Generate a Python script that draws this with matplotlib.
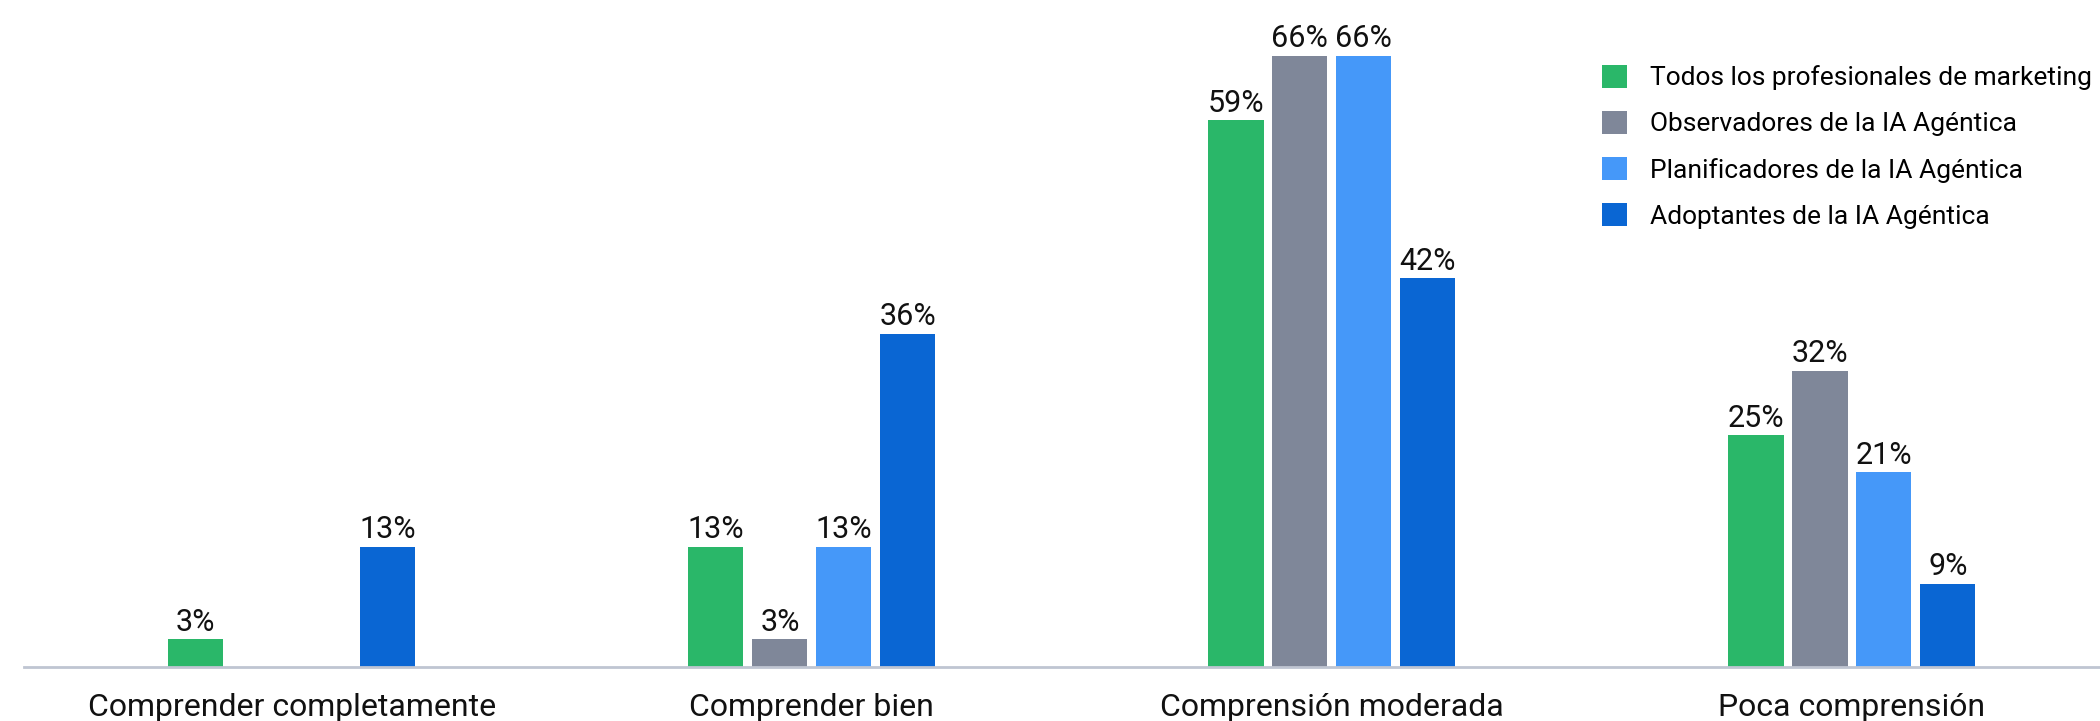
import numpy as np
import matplotlib.pyplot as plt

categories = ["Comprender completamente", "Comprender bien", "Comprensión moderada", "Poca comprensión"]
series_names = [
    "Todos los profesionales de marketing",
    "Observadores de la IA Agéntica",
    "Planificadores de la IA Agéntica",
    "Adoptantes de la IA Agéntica",
]
todos = [3, 13, 59, 25]
observadores = [np.nan, 3, 66, 32]
planificadores = [np.nan, 13, 66, 21]
adoptantes = [13, 36, 42, 9]

colors = ["#2AB769", "#7F8799", "#4598F9", "#0A66D3"]

plt.rcParams['font.family'] = ['Roboto', 'DejaVu Sans']

fig = plt.figure(figsize=(21, 7.21), dpi=100)
ax = fig.add_axes([24 / 2100, 54 / 721, 1 - 24 / 2100, 667 / 721])

x = np.arange(len(categories))
slot = 0.123
width = 0.106
all_series = [todos, observadores, planificadores, adoptantes]

for i, (vals, name, c) in enumerate(zip(all_series, series_names, colors)):
    pos = x + (i - 1.5) * slot
    bars = ax.bar(pos, vals, width=width, color=c, label=name, edgecolor="none")
    for xp, v in zip(pos, vals):
        if np.isnan(v):
            continue
        ax.annotate(f"{v:.0f}%", (xp, v), xytext=(0, 6), textcoords="offset points",
                    ha="center", va="baseline", fontsize=22, color="#111111")

ax.set_xlim(-0.515, 3.477)
ax.set_ylim(0, 72)
ax.set_xticks(x)
ax.set_xticklabels(categories, fontsize=23, color="#111111")
ax.tick_params(axis="x", length=0, pad=19)
ax.set_yticks([])
for s in ["top", "right", "left"]:
    ax.spines[s].set_visible(False)
ax.spines["bottom"].set_color("#BFC5D2")
ax.spines["bottom"].set_linewidth(2)

ax.legend(loc="upper left", bbox_to_anchor=(1602 / 2100, 1 - 65 / 721), bbox_transform=fig.transFigure,
          frameon=False, fontsize=19, handlelength=0.95, handleheight=0.95,
          handletextpad=0.85, labelspacing=0.78, borderaxespad=0, borderpad=0)

fig.savefig("out.png", dpi=100)
